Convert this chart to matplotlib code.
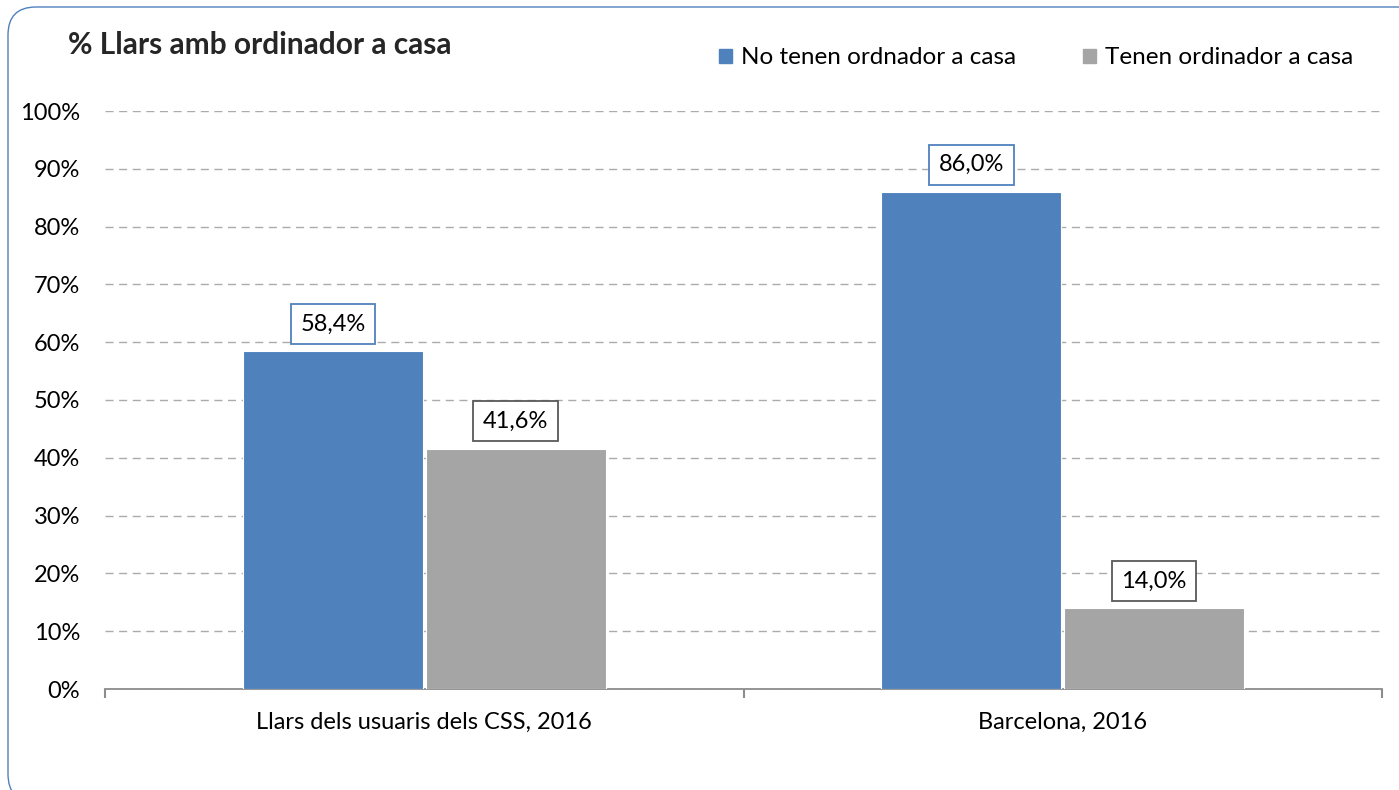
import matplotlib
matplotlib.use("Agg")
import matplotlib.pyplot as plt
from matplotlib.patches import FancyBboxPatch
from matplotlib.ticker import FixedLocator
import numpy as np

categories = ["Llars dels usuaris dels CSS, 2016", "Barcelona, 2016"]
series_names = ["No tenen ordnador a casa", "Tenen ordinador a casa"]
no_tenen = [58.4, 86.0]
tenen = [41.6, 14.0]
yticks = [0, 10, 20, 30, 40, 50, 60, 70, 80, 90, 100]

blue = "#4F81BD"
gray = "#A5A5A5"
axis_gray = "#8C8C8C"
font = "Lato"
plt.rcParams['font.family'] = [font, 'DejaVu Sans']
FS = 17

W, H = 1399, 790
fig = plt.figure(figsize=(W/100, H/100), dpi=100)

# rounded border in pixel coordinates (right and bottom edges run off the canvas)
border = FancyBboxPatch((8, -12), 1480, 790 - 7 + 12,
                        boxstyle="round,pad=0,rounding_size=28",
                        transform=None, fill=False,
                        edgecolor=blue, linewidth=1.0)
fig.patches.append(border)

ax = fig.add_axes([105/W, 1 - 689/H, (1382-105)/W, (689-111)/H])
x = np.arange(len(categories))
bw = 0.282
b1 = ax.bar(x - bw/2 - 0.002, no_tenen, bw, color=blue, edgecolor="white", linewidth=0.8, zorder=3)
b2 = ax.bar(x + bw/2 + 0.002, tenen, bw, color=gray, edgecolor="white", linewidth=0.8, zorder=3)

ax.set_xlim(-0.5, len(categories) - 0.5)
ax.set_ylim(0, 100)
ax.set_yticks(yticks)
ax.set_yticklabels([f"{v}%" for v in yticks], fontsize=FS)
ax.yaxis.grid(True, linestyle=(0, (5.8, 4)), color="#ABABAB", linewidth=1.0, zorder=0)
ax.set_axisbelow(True)
for s in ["top", "right", "left"]:
    ax.spines[s].set_visible(False)
ax.spines["bottom"].set_color(axis_gray)
ax.spines["bottom"].set_linewidth(1.3)
ax.tick_params(axis="y", length=0, pad=18)
ax.set_xticks([])
for xi, c in zip(x, categories):
    ax.text(xi, -5.7, c, ha="center", va="center", fontsize=FS, transform=ax.transData)
ax.xaxis.set_minor_locator(FixedLocator(np.arange(-0.5, len(categories), 1.0)))
ax.tick_params(axis="x", which="minor", length=6.5, color=axis_gray, width=1.5, direction="out")

def label(bars, vals, ec):
    for b, v in zip(bars, vals):
        ax.annotate(f"{v:.1f}%".replace(".", ","),
                    (b.get_x() + b.get_width()/2, v), xytext=(0, 12),
                    textcoords="offset points", ha="center", va="bottom",
                    fontsize=FS,
                    bbox=dict(boxstyle="square,pad=0.4", fc="white", ec=ec, lw=1.3),
                    zorder=5)

label(b1, no_tenen, blue)
label(b2, tenen, "#595959")

fig.text(68/W, 1 - 45/H, "% Llars amb ordinador a casa", fontsize=21.5, fontweight="bold",
         color="#262626", va="center", ha="left")

handles = [plt.Rectangle((0, 0), 1, 1, color=blue), plt.Rectangle((0, 0), 1, 1, color=gray)]
fig.legend(handles, series_names, loc="center left", bbox_to_anchor=(697/W, 1 - 58/H),
           ncol=2, frameon=False, fontsize=17.5, handlelength=0.55, handleheight=0.55,
           handletextpad=0.35, columnspacing=2.75)

fig.savefig("out.png", dpi=100)
